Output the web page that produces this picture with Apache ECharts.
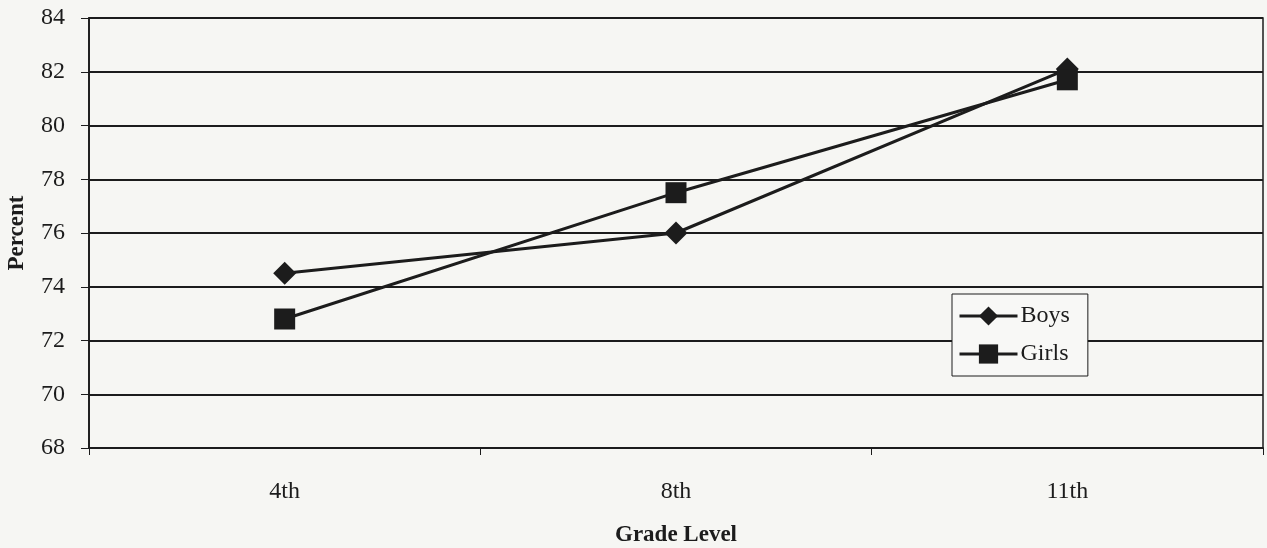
<!DOCTYPE html>
<html>
<head>
<meta charset="utf-8">
<script src="https://cdn.jsdelivr.net/npm/echarts@6/dist/echarts.min.js"></script>
<style>
  html, body { margin: 0; padding: 0; background: #f6f6f3; }
  #chart { width: 1267px; height: 548px; }
</style>
</head>
<body>
<div id="chart"></div>
<script>
// grade levels and percent values
var grades = ['4th', '8th', '11th'];
var boys = [74.5, 76.0, 82.1];
var girls = [72.8, 77.5, 81.7];

var ink = '#1c1c1c';
var font = 'Liberation Serif';

var myChart = echarts.init(document.getElementById('chart'));
var option = {
    backgroundColor: '#f6f6f3',
    animation: false,
    textStyle: { fontFamily: font, color: ink },
    grid: {
        left: 89, right: 4, top: 18, bottom: 100,
        containLabel: false,
        outerBoundsMode: 'none',
        show: true, borderColor: ink, borderWidth: 1.5,
        backgroundColor: 'transparent'
    },
    legend: {
        left: 952, top: 294,
        orient: 'vertical',
        backgroundColor: '#f8f8f6',
        borderColor: ink, borderWidth: 1,
        borderRadius: 0,
        padding: [10, 18, 10, 6],
        itemGap: 14,
        itemWidth: 58, itemHeight: 24,
        lineStyle: { width: 3 },
        textStyle: { fontFamily: font, fontSize: 24, color: ink, padding: [0, 0, 0, -2] },
        data: ['Boys', 'Girls']
    },
    xAxis: {
        type: 'category',
        data: grades,
        boundaryGap: true,
        name: 'Grade Level',
        nameLocation: 'middle',
        nameGap: 76,
        nameTextStyle: { fontFamily: font, fontSize: 23, fontWeight: 'bold', color: ink },
        axisLine: { lineStyle: { color: ink, width: 1.8 } },
        axisTick: { show: true, length: 7, lineStyle: { color: ink, width: 1 } },
        axisLabel: { margin: 32, fontSize: 24, color: ink, fontFamily: font }
    },
    yAxis: {
        type: 'value',
        min: 68, max: 84, interval: 2,
        name: 'Percent',
        nameLocation: 'middle',
        nameRotate: 90,
        nameGap: 60,
        nameTextStyle: { fontFamily: font, fontSize: 23, fontWeight: 'bold', color: ink },
        axisLine: { show: true, lineStyle: { color: ink, width: 1.8 } },
        axisTick: { show: true, length: 8, lineStyle: { color: ink, width: 1 } },
        axisLabel: { margin: 24, fontSize: 24, color: ink, fontFamily: font },
        splitLine: { show: true, lineStyle: { color: ink, width: 1.8 } }
    },
    series: [
        {
            name: 'Boys',
            type: 'line',
            data: boys,
            symbol: 'diamond',
            symbolSize: 23,
            itemStyle: { color: ink },
            lineStyle: { color: ink, width: 3 }
        },
        {
            name: 'Girls',
            type: 'line',
            data: girls,
            symbol: 'rect',
            symbolSize: 21,
            itemStyle: { color: ink },
            lineStyle: { color: ink, width: 3 }
        }
    ]
};
option && myChart.setOption(option);
</script>
</body>
</html>
